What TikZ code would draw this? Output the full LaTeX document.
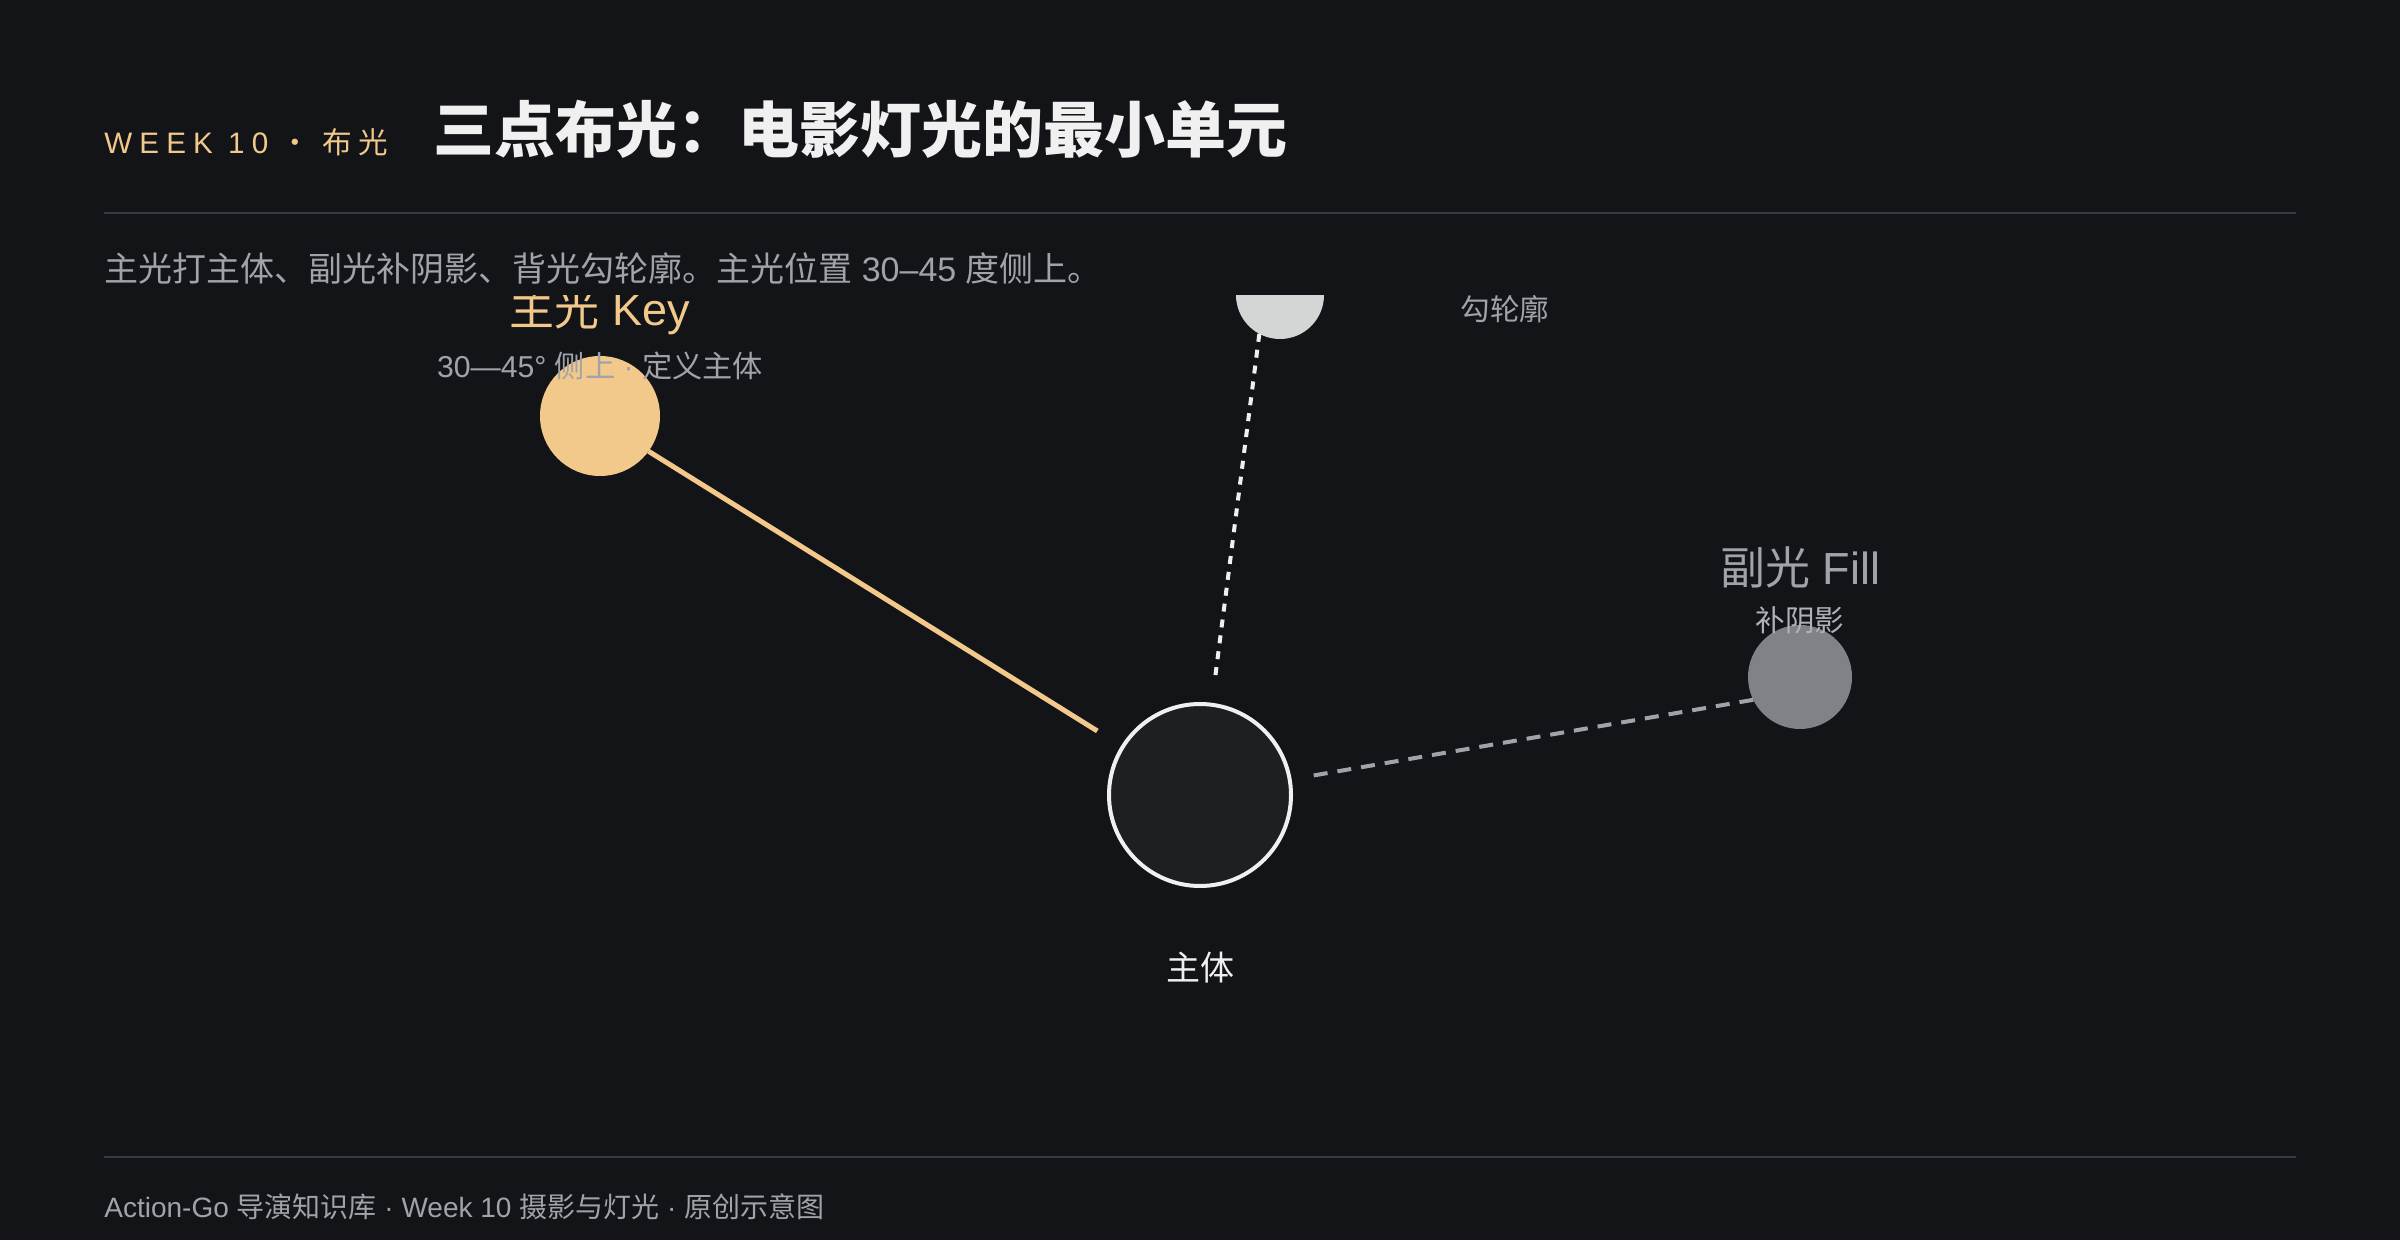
\documentclass[tikz,border=0pt]{standalone}
\usepackage{fontspec}
\setmainfont{Noto Sans CJK SC}
\newfontfamily\latinfont{Liberation Sans}
\newfontfamily\spacedcjk[LetterSpace=20]{Noto Sans CJK SC}
\newfontfamily\spacedlatin[LetterSpace=24]{Liberation Sans}
\usetikzlibrary{positioning}

\definecolor{bg}{HTML}{131418}
\definecolor{keygold}{HTML}{F2C98A}
\definecolor{ink}{HTML}{F0F0F0}
\definecolor{muted}{HTML}{A0A3A8}
\definecolor{fillgray}{HTML}{808288}
\definecolor{rimwhite}{HTML}{D4D6D5}
\definecolor{subjfill}{HTML}{1E1F23}
\definecolor{rulegray}{HTML}{3A3B40}

\newcommand{\txtsize}[1]{\fontsize{#1}{#1}\selectfont}
\newcommand{\lat}[1]{{\latinfont #1}}

\tikzset{
  lamp/.style={circle, inner sep=0pt, outer sep=0pt},
  lbl/.style={inner sep=0pt, anchor=base},
  lamplbl/.style={lbl, font=\txtsize{22.5pt}},
  lampsub/.style={lbl, muted, font=\txtsize{14.8pt}},
  keyline/.style={keygold, line width=2.5pt, shorten >=15pt},
  rimline/.style={ink, line width=2pt, dash pattern=on 4pt off 4pt, shorten >=14pt},
  fillline/.style={muted, line width=2pt, dash pattern=on 7pt off 5pt, shorten >=12pt},
}

\begin{document}
\begin{tikzpicture}[x=0.5pt,y=-0.5pt] % 1 unit = 1 px of the 2400 x 1240 page
  \fill[bg] (0,0) rectangle (2400,1240);

  % header
  \node[lbl, anchor=base west, keygold, font=\txtsize{14.8pt}] (week) at (104,154) {{\spacedlatin WEEK 10}{\spacedcjk\ · 布光}};
  \node[lbl, anchor=base west, ink, font=\bfseries\txtsize{30.5pt}] (title) at (433,153) {三点布光：电影灯光的最小单元};
  \coordinate (ruleA) at (104,213);
  \coordinate (ruleB) at (2296,213);
  \draw[rulegray, line width=1pt] (ruleA) -- (ruleB);
  \node[lbl, anchor=base west, muted, font=\txtsize{17pt}] (intro) at (104,282) {主光打主体、副光补阴影、背光勾轮廓。主光位置\lat{ 30–45 }度侧上。};

  % diagram area
  \begin{scope}
    \clip (0,296) rectangle (2400,1130);
    \node[lamp, fill=subjfill, draw=ink, line width=2pt, minimum size=91pt] (subj) at (1200,795) {};
    \node[lamp, fill=keygold, minimum size=60pt] (key) at (600,416) {};
    \node[lamp, fill=rimwhite, minimum size=44pt] (rim) at (1280,295) {};
    \node[lamp, fill=fillgray, minimum size=52pt] (fill) at (1800,677) {};

    \node[lamplbl, keygold] (keyT) at (600,326) {主光\lat{ Key}};
    \node[lampsub, font=\txtsize{15.1pt}] (keyS) at (600,378) {\lat{30—45° }侧上\lat{ · }定义主体};
    \node[lampsub] (rimS) at (1505,321) {勾轮廓};
    \node[lamplbl, muted] (fillT) at (1800,585) {副光\lat{ Fill}};
    \node[lampsub, color=muted!85!white] (fillS) at (1800,632) {补阴影};
    \node[lbl, ink, font=\txtsize{17pt}] (subjT) at (1200,980) {主体};

    \draw[keyline] (key.324) -- (subj);
    \draw[rimline] (rim.242) -- (subj);
    \draw[fillline] (fill.206) -- (subj);
  \end{scope}

  % footer
  \coordinate (footA) at (104,1157);
  \coordinate (footB) at (2296,1157);
  \draw[rulegray, line width=1pt] (footA) -- (footB);
  \node[lbl, anchor=base west, muted, font=\txtsize{14pt}] (foot) at (104,1217) {\lat{Action-Go }导演知识库\lat{ · Week 10 }摄影与灯光\lat{ · }原创示意图};
\end{tikzpicture}
\end{document}
